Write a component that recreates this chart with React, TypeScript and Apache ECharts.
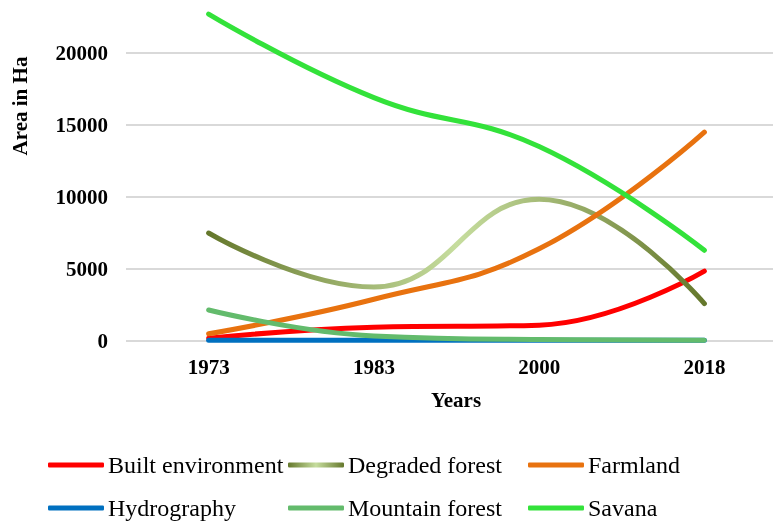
import React, { useEffect, useRef } from "react";
import * as echarts from "echarts";

const years = ["1973", "1983", "2000", "2018"];
const builtEnvironment = [200, 950, 1100, 4850];
const degradedForest = [7500, 3750, 9850, 2600];
const farmland = [500, 2900, 6400, 14500];
const hydrography = [50, 50, 50, 50];
const mountainForest = [2150, 350, 100, 60];
const savana = [22700, 16900, 13500, 6300];

const seriesNames = [
  "Built environment",
  "Degraded forest",
  "Farmland",
  "Hydrography",
  "Mountain forest",
  "Savana",
];

const FONT = "'Liberation Serif', 'Times New Roman', serif";
const OFF = 19; // chart div is shifted up by this many px

export default function App() {
  const ref = useRef<HTMLDivElement>(null);
  useEffect(() => {
    if (!ref.current) return;
    const chart = echarts.init(ref.current, null, { renderer: "svg" });
    const grad = () =>
      new echarts.graphic.LinearGradient(0, 0, 1, 0, [
        { offset: 0, color: "#65782c" },
        { offset: 0.5, color: "#c6dd9e" },
        { offset: 1, color: "#65782c" },
      ]);
    const colors = ["#ff0000", "#8aa04a", "#e8720f", "#0070c0", "#63bb6c", "#33e23a"];
    const data = [builtEnvironment, degradedForest, farmland, hydrography, mountainForest, savana];
    const colX = [48, 288, 528];
    const rowY = [453 + OFF, 496 + OFF];
    const legends = seriesNames.map((n, i) => ({
      data: [n],
      left: colX[i % 3],
      top: rowY[Math.floor(i / 3)],
      icon: "roundRect",
      itemWidth: 56,
      itemHeight: 5,
      itemGap: 0,
      padding: 0,
      textStyle: { fontFamily: FONT, fontSize: 24, color: "#000", padding: [0, 0, 0, -1] },
    }));
    chart.setOption({
      animation: false,
      grid: { left: 126, right: 0, top: 0, bottom: 180, containLabel: false },
      legend: legends,
      xAxis: {
        type: "category",
        data: years,
        boundaryGap: true,
        axisLine: { show: false },
        axisTick: { show: false },
        axisLabel: {
          fontFamily: FONT,
          fontSize: 21,
          fontWeight: "bold",
          color: "#000",
          margin: 15,
        },
      },
      yAxis: {
        type: "value",
        min: 0,
        max: 25000,
        interval: 5000,
        axisLine: { show: false },
        axisTick: { show: false },
        splitLine: { lineStyle: { color: "#d9d9d9", width: 2 } },
        axisLabel: {
          fontFamily: FONT,
          fontSize: 21,
          fontWeight: "bold",
          color: "#000",
          margin: 18,
          showMaxLabel: false,
          formatter: (v: number) => String(v),
        },
      },
      graphic: [
        {
          type: "text",
          x: 20,
          y: 106 + OFF,
          rotation: Math.PI / 2,
          style: {
            text: "Area in Ha",
            font: `bold 21px ${FONT}`,
            fill: "#000",
            align: "center",
            verticalAlign: "middle",
          },
        },
        {
          type: "text",
          x: 456,
          y: 400 + OFF,
          style: {
            text: "Years",
            font: `bold 21px ${FONT}`,
            fill: "#000",
            align: "center",
            verticalAlign: "middle",
          },
        },
      ],
      series: seriesNames.map((n, i) => ({
        name: n,
        type: "line",
        data: data[i],
        smooth: 0.45,
        showSymbol: false,
        symbol: "none",
        lineStyle: {
          width: 5,
          cap: "round",
          join: "round",
          color: i === 1 ? grad() : colors[i],
        },
        itemStyle: { color: i === 1 ? grad() : colors[i] },
      })),
    });
    return () => chart.dispose();
  }, []);
  return (
    <div
      ref={ref}
      style={{ width: 787, height: 540, position: "fixed", left: 0, top: -OFF }}
    />
  );
}
